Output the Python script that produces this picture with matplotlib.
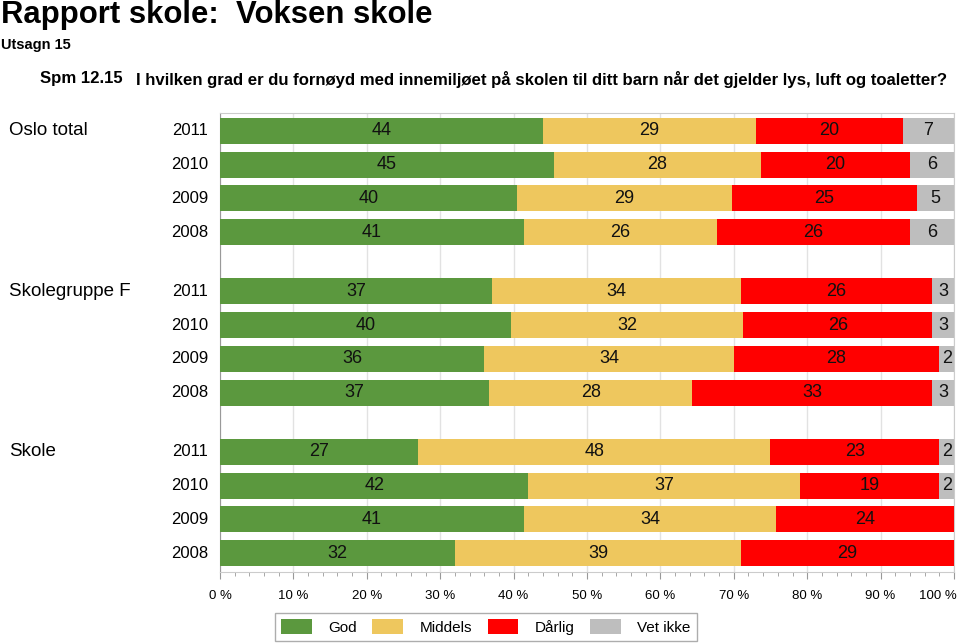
import numpy as np
import matplotlib.pyplot as plt
from matplotlib.patches import Patch
from matplotlib.ticker import MultipleLocator, FuncFormatter

plt.rcParams['font.family'] = ['Liberation Sans', 'DejaVu Sans']

# data (percent)
groups = ["Oslo total", "Skolegruppe F", "Skole"]
years = ["2011", "2010", "2009", "2008"]
categories = ["God", "Middels", "Dårlig", "Vet ikke"]
colors = ["#5b983e", "#eec75e", "#ff0000", "#bebebe"]

god = [44, 45, 40, 41,  37, 40, 36, 37,  27, 42, 41, 32]
middels = [29, 28, 29, 26,  34, 32, 34, 28,  48, 37, 34, 39]
darlig = [20, 20, 25, 26,  26, 26, 28, 33,  23, 19, 24, 29]
vet_ikke = [7, 6, 5, 6,  3, 3, 2, 3,  2, 2, 0, 0]

vals = np.array([god, middels, darlig, vet_ikke], dtype=float)
widths = vals / vals.sum(axis=0) * 100

row_step = 1.0
group_step = 4.75
ypos = []
for g in range(len(groups)):
    for r in range(len(years)):
        ypos.append(g * group_step + r * row_step)
ypos = np.array(ypos)

fig = plt.figure(figsize=(9.6, 6.43), dpi=100)
ax = fig.add_axes([220 / 960, 1 - 572 / 643, 734 / 960, 459 / 643])

left = np.zeros(len(ypos))
for i in range(len(categories)):
    ax.barh(ypos, widths[i], left=left, height=0.77, color=colors[i],
            edgecolor='none', zorder=3)
    for y, l, w, v in zip(ypos, left, widths[i], vals[i]):
        if v > 0:
            ax.text(l + w / 2, y, "%d" % v, ha='center', va='center',
                    fontsize=13, color='#111111', zorder=4)
    left += widths[i]

ax.set_xlim(0, 100)
ax.set_ylim(ypos[-1] + 0.56, -0.53)
ax.xaxis.set_major_locator(MultipleLocator(10))
ax.xaxis.set_minor_locator(MultipleLocator(2))
# last label is drawn by hand so it stays inside the figure
ax.xaxis.set_major_formatter(FuncFormatter(lambda x, p: "" if x >= 100 else "%d %%" % x))
ax.tick_params(axis='x', which='major', length=5, color='#999999',
               labelsize=9.5, pad=8)
ax.tick_params(axis='x', which='minor', length=3, color='#999999')
ax.set_yticks([])
ax.grid(axis='x', color='#e2e2e2', linewidth=1, zorder=0)
for s in ['top', 'right', 'bottom']:
    ax.spines[s].set_color('#cccccc')
ax.spines['left'].set_color('#999999')

ax.text(100.4, -18 / 459, "100 %", ha='right', va='top', fontsize=9.5,
        transform=ax.get_xaxis_transform())

# year and group labels
for i, y in enumerate(ypos):
    ax.text(-1.6, y, years[i % 4], ha='right', va='center', fontsize=12)
for g, name in enumerate(groups):
    fig.text(9 / 960, ax.transData.transform((0, ypos[g * 4]))[1] / 643,
             name, ha='left', va='center', fontsize=13.5)

# titles
fig.text(1 / 960, 1 - 0 / 643, "Rapport skole:  Voksen skole", fontsize=22.4,
         fontweight='bold', ha='left', va='top')
fig.text(1 / 960, 1 - 38 / 643, "Utsagn 15", fontsize=10.5,
         fontweight='bold', ha='left', va='top')
fig.text(40 / 960, 1 - 71 / 643, "Spm 12.15", fontsize=12.1,
         fontweight='bold', ha='left', va='top')
fig.text(136 / 960, 1 - 71 / 643,
         "I hvilken grad er du fornøyd med innemiljøet på skolen til ditt barn når det gjelder lys, luft og toaletter?",
         fontsize=12.1, fontweight='bold', ha='left', va='top')

handles = [Patch(facecolor=c, edgecolor='none') for c in colors]
leg = fig.legend(handles, categories, ncol=4, loc='center',
                 bbox_to_anchor=(486 / 960, 1 - 627 / 643), fontsize=11,
                 frameon=True, fancybox=False, edgecolor='#999999',
                 handlelength=2.0, handleheight=1.1, columnspacing=1.0,
                 borderpad=0.4, handletextpad=1.1)
leg.get_frame().set_linewidth(1)

fig.savefig("out.png", dpi=100)
